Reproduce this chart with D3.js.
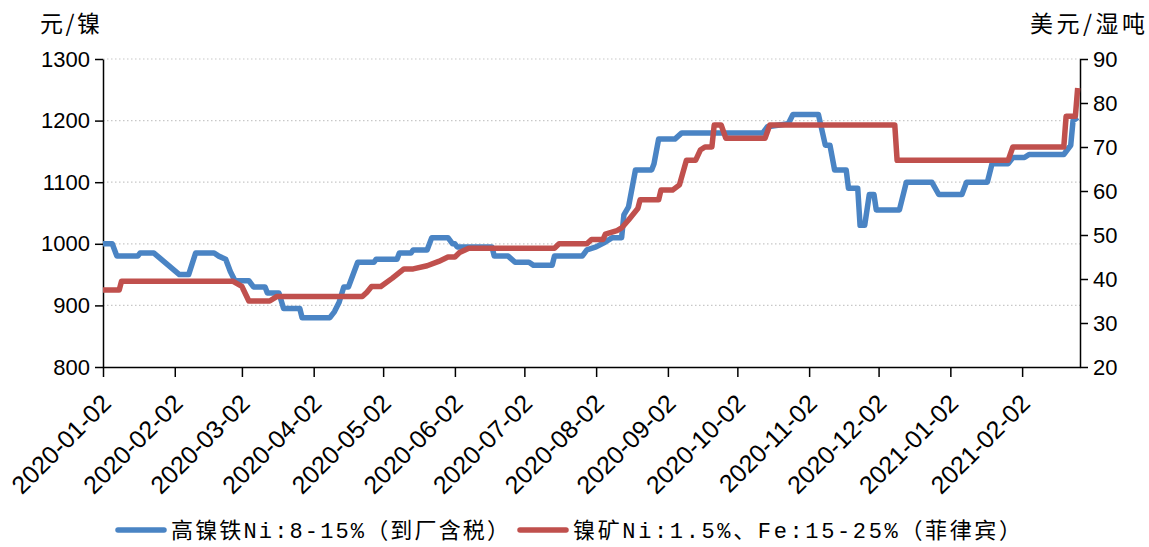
<!DOCTYPE html>
<html>
<head>
<meta charset="utf-8">
<script src="https://cdn.jsdelivr.net/npm/d3@7"></script>
<style>
  body { margin: 0; background: #fff; }
  text { font-family: "Liberation Sans", Arial, sans-serif; fill: #000; }
  .cjk { font-family: "Noto Sans CJK SC", sans-serif; }
  .legend-text { font-family: "Liberation Mono", "Noto Sans CJK SC", monospace; }
</style>
</head>
<body>
<div id="chart"></div>
<script>
// Tick labels.
const monthTicks = ['2020-01-02', '2020-02-02', '2020-03-02', '2020-04-02', '2020-05-02', '2020-06-02',
  '2020-07-02', '2020-08-02', '2020-09-02', '2020-10-02', '2020-11-02', '2020-12-02', '2021-01-02', '2021-02-02']
const leftTicks = [800, 900, 1000, 1100, 1200, 1300]
const rightTicks = [20, 30, 40, 50, 60, 70, 80, 90]

// 高镍铁 Ni:8-15% (元/镍), left axis.
const npiSeries = [
  ['2020-01-02', 1000], ['2020-01-06', 1000], ['2020-01-08', 980], ['2020-01-17', 980], ['2020-01-18', 985],
  ['2020-01-24', 985], ['2020-02-04', 950], ['2020-02-08', 950], ['2020-02-11', 985], ['2020-02-19', 985],
  ['2020-02-21', 980], ['2020-02-24', 975], ['2020-02-26', 955], ['2020-02-28', 940], ['2020-03-05', 940],
  ['2020-03-07', 930], ['2020-03-12', 930], ['2020-03-13', 920], ['2020-03-18', 920], ['2020-03-20', 895],
  ['2020-03-27', 895], ['2020-03-28', 880], ['2020-04-09', 880], ['2020-04-11', 890], ['2020-04-13', 905],
  ['2020-04-15', 930], ['2020-04-17', 930], ['2020-04-21', 970], ['2020-04-28', 970], ['2020-04-29', 975],
  ['2020-05-08', 975], ['2020-05-09', 985], ['2020-05-14', 985], ['2020-05-15', 990], ['2020-05-21', 990],
  ['2020-05-23', 1010], ['2020-05-30', 1010], ['2020-06-01', 1000], ['2020-06-02', 1000], ['2020-06-03', 995],
  ['2020-06-18', 995], ['2020-06-19', 980], ['2020-06-25', 980], ['2020-06-28', 970], ['2020-07-04', 970],
  ['2020-07-06', 965], ['2020-07-14', 965], ['2020-07-15', 980], ['2020-07-27', 980], ['2020-07-29', 990],
  ['2020-08-02', 995], ['2020-08-06', 1003], ['2020-08-09', 1010], ['2020-08-13', 1010], ['2020-08-14', 1047],
  ['2020-08-16', 1060], ['2020-08-19', 1120], ['2020-08-26', 1120], ['2020-08-27', 1130], ['2020-08-29', 1170],
  ['2020-09-05', 1170], ['2020-09-08', 1180], ['2020-10-13', 1180], ['2020-10-15', 1190], ['2020-10-24', 1195],
  ['2020-10-26', 1210], ['2020-11-06', 1210], ['2020-11-09', 1160], ['2020-11-11', 1160], ['2020-11-13', 1120],
  ['2020-11-18', 1120], ['2020-11-19', 1090], ['2020-11-23', 1090], ['2020-11-24', 1030], ['2020-11-26', 1030],
  ['2020-11-28', 1080], ['2020-11-30', 1080], ['2020-12-01', 1055], ['2020-12-11', 1055], ['2020-12-14', 1100],
  ['2020-12-25', 1100], ['2020-12-28', 1080], ['2021-01-07', 1080], ['2021-01-09', 1100], ['2021-01-18', 1100],
  ['2021-01-20', 1130], ['2021-01-27', 1130], ['2021-01-29', 1140], ['2021-02-03', 1140], ['2021-02-05', 1145],
  ['2021-02-20', 1145], ['2021-02-23', 1160], ['2021-02-24', 1200], ['2021-02-26', 1205]
]

// 镍矿 Ni:1.5%、Fe:15-25% (美元/湿吨), right axis.
const oreSeries = [
  ['2020-01-02', 37.5], ['2020-01-09', 37.5], ['2020-01-10', 39.5], ['2020-02-27', 39.5], ['2020-03-02', 38.3],
  ['2020-03-05', 35], ['2020-03-14', 35], ['2020-03-17', 36], ['2020-04-23', 36], ['2020-04-25', 37],
  ['2020-04-27', 38.3], ['2020-05-01', 38.3], ['2020-05-06', 40.2], ['2020-05-11', 42.3], ['2020-05-15', 42.3],
  ['2020-05-21', 43], ['2020-05-26', 44], ['2020-05-30', 45], ['2020-06-02', 45], ['2020-06-04', 46],
  ['2020-06-08', 47], ['2020-07-15', 47], ['2020-07-17', 48], ['2020-07-29', 48], ['2020-07-31', 49],
  ['2020-08-05', 49], ['2020-08-06', 50.2], ['2020-08-11', 51], ['2020-08-13', 51.6], ['2020-08-16', 53.4],
  ['2020-08-20', 56], ['2020-08-21', 58], ['2020-08-29', 58], ['2020-08-30', 60.2], ['2020-09-04', 60.2],
  ['2020-09-07', 61.4], ['2020-09-10', 67], ['2020-09-14', 67], ['2020-09-16', 69.3], ['2020-09-18', 70],
  ['2020-09-21', 70], ['2020-09-22', 75], ['2020-09-25', 75], ['2020-09-27', 72], ['2020-10-14', 72],
  ['2020-10-16', 75], ['2020-12-09', 75], ['2020-12-10', 67], ['2021-01-27', 67], ['2021-01-29', 70],
  ['2021-02-20', 70], ['2021-02-21', 77], ['2021-02-25', 77], ['2021-02-26', 83.4]
]

const legendItems = [
  { label: '高镍铁Ni:8-15%（到厂含税）', color: '#4a84c4' },
  { label: '镍矿Ni:1.5%、Fe:15-25%（菲律宾）', color: '#c0504d' }
]

const width = 1149
const height = 547
const margin = { top: 59, right: 69, bottom: 180, left: 103 }
const parse = d3.timeParse('%Y-%m-%d')

const svg = d3.select('#chart')
  .append('svg')
  .attr('width', width)
  .attr('height', height)

/**
 * Scales.
 */
const x = d3.scaleTime()
  .domain([parse('2020-01-02'), parse('2021-02-27')])
  .range([margin.left, width - margin.right])
const yLeft = d3.scaleLinear()
  .domain([800, 1300])
  .range([height - margin.bottom, margin.top])
const yRight = d3.scaleLinear()
  .domain([20, 90])
  .range([height - margin.bottom, margin.top])

// Dotted gridlines.
svg.append('g')
  .selectAll('line')
  .data(leftTicks.slice(1))
  .enter()
  .append('line')
    .attr('x1', margin.left)
    .attr('x2', width - margin.right)
    .attr('y1', d => yLeft(d))
    .attr('y2', d => yLeft(d))
    .attr('stroke', '#c8c8c8')
    .attr('stroke-width', 1.2)
    .attr('stroke-dasharray', '1.5,2.5')

/**
 * Axes.
 */
const styleAxis = g => {
  g.attr('font-family', null)
  g.select('.domain').attr('stroke', '#000').attr('stroke-width', 1.5)
  g.selectAll('.tick line').attr('stroke', '#000').attr('stroke-width', 1.5)
  g.selectAll('.tick text').attr('font-size', 22).attr('fill', '#000')
}

svg.append('g')
  .attr('transform', `translate(${margin.left},0)`)
  .call(d3.axisLeft(yLeft).tickValues(leftTicks).tickFormat(d3.format('d'))
    .tickSizeInner(8).tickSizeOuter(0).tickPadding(5))
  .call(styleAxis)

svg.append('g')
  .attr('transform', `translate(${width - margin.right},0)`)
  .call(d3.axisRight(yRight).tickValues(rightTicks).tickFormat(d3.format('d'))
    .tickSizeInner(8).tickSizeOuter(0).tickPadding(5))
  .call(styleAxis)

const xAxis = svg.append('g')
  .attr('transform', `translate(0,${height - margin.bottom})`)
  .call(d3.axisBottom(x).tickValues(monthTicks.map(parse)).tickSizeInner(10).tickSizeOuter(0)
    .tickFormat(d3.timeFormat('%Y-%m-%d')))
  .call(styleAxis)
xAxis.selectAll('.tick text')
  .attr('font-size', 25)
  .attr('text-anchor', 'end')
  .attr('dy', null)
  .attr('y', 0)
  .attr('transform', 'translate(9,38) rotate(-45)')

// Unit labels.
svg.append('text')
  .attr('class', 'cjk')
  .attr('x', 40)
  .attr('y', 32)
  .attr('font-size', 23)
  .attr('textLength', 60)
  .text('元/镍')
svg.append('text')
  .attr('class', 'cjk')
  .attr('x', 1030)
  .attr('y', 32)
  .attr('font-size', 23)
  .attr('textLength', 115)
  .text('美元/湿吨')

/**
 * Lines.
 */
const lineLeft = d3.line()
  .x(d => x(parse(d[0])))
  .y(d => yLeft(d[1]))
const lineRight = d3.line()
  .x(d => x(parse(d[0])))
  .y(d => yRight(d[1]))

svg.append('path')
  .datum(npiSeries)
  .attr('d', lineLeft)
  .attr('fill', 'none')
  .attr('stroke', legendItems[0].color)
  .attr('stroke-width', 5.5)
  .attr('stroke-linejoin', 'round')

svg.append('path')
  .datum(oreSeries)
  .attr('d', lineRight)
  .attr('fill', 'none')
  .attr('stroke', legendItems[1].color)
  .attr('stroke-width', 5.5)
  .attr('stroke-linejoin', 'round')

/**
 * Legend.
 */
const legendX = [118, 520]
const legendWidths = [338, 448]
const legend = svg.append('g')
  .selectAll('g')
  .data(legendItems)
  .enter()
  .append('g')
  .attr('transform', (d, i) => `translate(${legendX[i]},530)`)
legend.append('line')
  .attr('x1', 0)
  .attr('x2', 46)
  .attr('stroke', d => d.color)
  .attr('stroke-width', 5.5)
  .attr('stroke-linecap', 'round')
legend.append('text')
  .attr('class', 'legend-text')
  .attr('x', 53)
  .attr('y', 8)
  .attr('font-size', 22)
  .attr('textLength', (d, i) => legendWidths[i])
  .attr('lengthAdjust', 'spacing')
  .text(d => d.label)
</script>
</body>
</html>
